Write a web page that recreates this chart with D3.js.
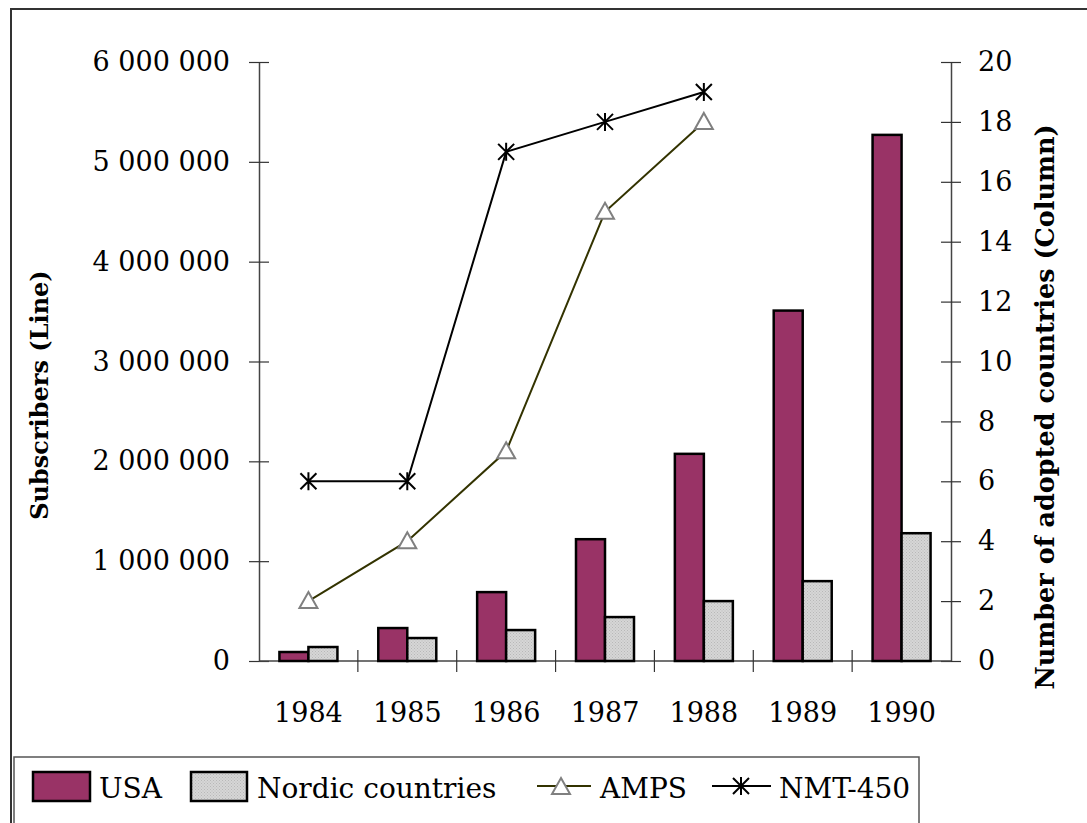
<!DOCTYPE html>
<html><head><meta charset="utf-8">
<script src="https://cdn.jsdelivr.net/npm/d3@7"></script>
<style>body{margin:0;background:#fff}svg{display:block}</style>
</head><body>
<svg id="c" width="1087" height="823"></svg>
<script>
const years = ["1984","1985","1986","1987","1988","1989","1990"];
const usa = [90000, 330000, 690000, 1220000, 2075000, 3510000, 5270000];
const nordic = [140000, 230000, 310000, 440000, 600000, 800000, 1280000];
const ampsYears = ["1984","1985","1986","1987","1988"];
const amps = [2, 4, 7, 15, 18];
const nmt = [6, 6, 17, 18, 19];
const leftTicks = [0,1000000,2000000,3000000,4000000,5000000,6000000];
const rightTicks = [0,2,4,6,8,10,12,14,16,18,20];

const svg = d3.select("#c");
const font = "'DejaVu Serif', serif";
const fs = 27;
const L = 259, R = 951, T = 62, B = 661;

// outer frame
svg.append("rect").attr("x",11).attr("y",9).attr("width",1200).attr("height",1000)
  .attr("fill","none").attr("stroke","#333").attr("stroke-width",2);

const defs = svg.append("defs");
const pat = defs.append("pattern").attr("id","dots").attr("width",3).attr("height",3).attr("patternUnits","userSpaceOnUse");
pat.append("rect").attr("width",3).attr("height",3).attr("fill","#d6d6d6");
pat.append("rect").attr("width",1).attr("height",1).attr("fill","#b8b8b8");
pat.append("rect").attr("x",1.5).attr("y",1.5).attr("width",1).attr("height",1).attr("fill","#bcbcbc");

const x = d3.scaleBand().domain(years).range([L,R]);
const yL = d3.scaleLinear().domain([0,6000000]).range([B,T]);
const yR = d3.scaleLinear().domain([0,20]).range([B,T]);
const bw = 29;

const fmt = d => d3.format(",")(d).replace(/,/g," ");

// left axis
const gl = svg.append("g").attr("transform",`translate(${L},0)`)
  .call(d3.axisLeft(yL).tickValues(leftTicks).tickFormat(fmt).tickSizeOuter(0).tickSizeInner(10).tickPadding(19));
gl.selectAll(".tick line").attr("x2",10).attr("x1",-10);
// right axis
const gr = svg.append("g").attr("transform",`translate(${R},0)`)
  .call(d3.axisRight(yR).tickValues(rightTicks).tickSizeOuter(0).tickSizeInner(10).tickPadding(17));
gr.selectAll(".tick line").attr("x1",-10).attr("x2",10);
// x axis
const gx = svg.append("g").attr("transform",`translate(0,${B})`)
  .call(d3.axisBottom(x).tickSize(0).tickSizeOuter(0).tickPadding(42));
// category boundary ticks
svg.append("g").selectAll("line").data(years.slice(1)).join("line")
  .attr("x1",d=>x(d)).attr("x2",d=>x(d)).attr("y1",B-11).attr("y2",B+11)
  .attr("stroke","#333").attr("stroke-width",1.2);

[gl,gr,gx].forEach(g=>{
  g.selectAll("path.domain").attr("stroke","#444").attr("stroke-width",1.5);
  g.selectAll(".tick line").attr("stroke","#333").attr("stroke-width",1.2);
  g.selectAll("text").attr("font-family",font).attr("font-size",fs).attr("fill","#000");
});
gx.select("path.domain").attr("d",`M${L},0H${R}`);

// bars
const bars = svg.append("g");
bars.selectAll(".u").data(years).join("rect")
  .attr("x",(d,i)=>x(d)+x.bandwidth()/2-bw).attr("width",bw)
  .attr("y",(d,i)=>yL(usa[i])).attr("height",(d,i)=>B-yL(usa[i]))
  .attr("fill","#993366").attr("stroke","#000").attr("stroke-width",2.5);
bars.selectAll(".n").data(years).join("rect")
  .attr("x",(d,i)=>x(d)+x.bandwidth()/2).attr("width",bw)
  .attr("y",(d,i)=>yL(nordic[i])).attr("height",(d,i)=>B-yL(nordic[i]))
  .attr("fill","url(#dots)").attr("stroke","#000").attr("stroke-width",2.5);

const cx = d => x(d)+x.bandwidth()/2;
// lines
svg.append("path").datum(amps).attr("fill","none").attr("stroke","#333300").attr("stroke-width",2)
  .attr("d",d3.line().x((d,i)=>cx(ampsYears[i])).y(d=>yR(d)));
svg.append("path").datum(nmt).attr("fill","none").attr("stroke","#000").attr("stroke-width",2)
  .attr("d",d3.line().x((d,i)=>cx(ampsYears[i])).y(d=>yR(d)));

function tri(g,px,py){
  g.append("path").attr("d",`M${px},${py-9}L${px+9},${py+7}L${px-9},${py+7}Z`)
   .attr("fill","#fff").attr("stroke","#808080").attr("stroke-width",2);
}
function star(g,px,py){
  const s=8;
  g.append("path").attr("d",`M${px-s},${py-s}L${px+s},${py+s}M${px-s},${py+s}L${px+s},${py-s}M${px},${py-s-1}L${px},${py+s+1}`)
   .attr("stroke","#000").attr("stroke-width",2).attr("fill","none");
}
const mk = svg.append("g");
amps.forEach((v,i)=>tri(mk,cx(ampsYears[i]),yR(v)));
nmt.forEach((v,i)=>star(mk,cx(ampsYears[i]),yR(v)));

// axis titles
svg.append("text").attr("transform","translate(48,395) rotate(-90)").attr("text-anchor","middle")
  .attr("font-family",font).attr("font-weight","bold").attr("font-size",24).text("Subscribers (Line)");
svg.append("text").attr("transform","translate(1054,407) rotate(-90)").attr("text-anchor","middle")
  .attr("font-family",font).attr("font-weight","bold").attr("font-size",25.5).text("Number of adopted countries (Column)");

// legend
const lg = svg.append("g");
lg.append("rect").attr("x",14).attr("y",757).attr("width",905).attr("height",100)
  .attr("fill","#fff").attr("stroke","#555").attr("stroke-width",1.5);
const ly = 786;
lg.append("rect").attr("x",33).attr("y",772).attr("width",57).attr("height",29).attr("fill","#993366").attr("stroke","#000").attr("stroke-width",2.5);
lg.append("rect").attr("x",191).attr("y",772).attr("width",56).attr("height",29).attr("fill","url(#dots)").attr("stroke","#000").attr("stroke-width",2.5);
lg.append("line").attr("x1",537).attr("x2",591).attr("y1",ly).attr("y2",ly).attr("stroke","#333300").attr("stroke-width",2);
tri(lg,561,ly+1);
lg.append("line").attr("x1",712).attr("x2",771).attr("y1",ly).attr("y2",ly).attr("stroke","#000").attr("stroke-width",2);
star(lg,741,ly);
const lt = [["USA",99],["Nordic countries",257],["AMPS",600],["NMT-450",779]];
lg.selectAll("text.l").data(lt).join("text").attr("x",d=>d[1]).attr("y",798)
  .attr("font-family",font).attr("font-size",28).text(d=>d[0]);
</script>
</body></html>
